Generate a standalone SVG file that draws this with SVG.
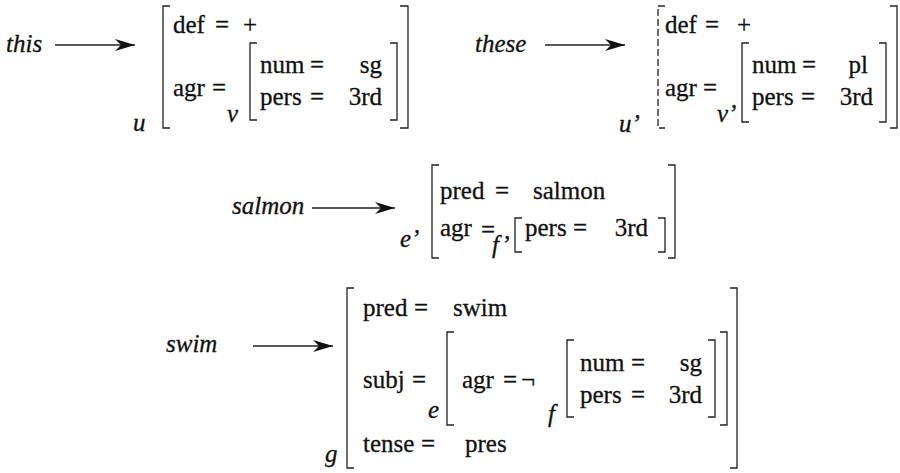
<svg xmlns="http://www.w3.org/2000/svg" width="900" height="473" viewBox="0 0 900 473">
<style>
text{font-family:"Liberation Serif","Times New Roman",serif;font-size:25px;fill:#111;stroke:#111;stroke-width:0.3}
.i{font-style:italic}
.e{text-anchor:end}
.b{fill:none;stroke:#222;stroke-width:1.3}
.d{stroke-dasharray:7 3}
.c{stroke:#222;stroke-width:1.3;fill:none}
</style>
<defs>
<marker id="ah" viewBox="0 0 20 12" refX="20" refY="6" markerWidth="20" markerHeight="12" markerUnits="userSpaceOnUse" orient="auto">
<path d="M0,0 L20,6 L0,12 L6,6 Z" fill="#111"/>
</marker>
</defs>
<rect width="900" height="473" fill="#fff"/>
<g id="labels">
<g id="w-this"><text class="i" x="6" y="52">this</text></g>
<g id="w-these"><text class="i" x="475" y="52">these</text></g>
<g id="w-salmon"><text class="i" x="232" y="214">salmon</text></g>
<g id="w-swim"><text class="i" x="166" y="352">swim</text></g>
</g>
<g id="connectors">
<line class="c" x1="55" y1="45" x2="135" y2="45" marker-end="url(#ah)"/>
<line class="c" x1="545" y1="45" x2="625" y2="45" marker-end="url(#ah)"/>
<line class="c" x1="312" y1="208" x2="395" y2="208" marker-end="url(#ah)"/>
<line class="c" x1="253" y1="346" x2="333" y2="346" marker-end="url(#ah)"/>
</g>
<g id="fs-u">
<text class="i" x="133" y="131">u</text>
<path class="b" d="M170,6 H163 V128 H170"/>
<path class="b" d="M400,6 H408 V128 H400"/>
<text x="173" y="33">def</text><text x="215" y="33">=</text><text x="243" y="33">+</text>
<text x="173" y="96">agr</text><text x="212" y="96">=</text>
<text class="i" x="227" y="122">v</text>
<path class="b" d="M257,43 H250 V120 H257"/>
<path class="b" d="M390,43 H397 V120 H390"/>
<text x="260" y="73">num</text><text x="310" y="73">=</text><text class="e" x="382" y="73">sg</text>
<text x="260" y="105">pers</text><text x="310" y="105">=</text><text class="e" x="382" y="105">3rd</text>
</g>
<g id="fs-u2">
<text class="i" x="619" y="132">u’</text>
<path class="b d" d="M665,6 H658 V128 H665"/>
<path class="b" d="M890,6 H897 V128 H890"/>
<text x="665" y="33">def</text><text x="705" y="33">=</text><text x="737" y="33">+</text>
<text x="665" y="96">agr</text><text x="703" y="96">=</text>
<text class="i" x="717" y="122">v’</text>
<path class="b" d="M749,43 H742 V122 H749"/>
<path class="b" d="M879,43 H886 V122 H879"/>
<text x="752" y="73">num</text><text x="802" y="73">=</text><text class="e" x="868" y="73">pl</text>
<text x="752" y="105">pers</text><text x="801" y="105">=</text><text class="e" x="873" y="105">3rd</text>
</g>
<g id="fs-e2">
<text class="i" x="400" y="247">e’</text>
<path class="b" d="M439,165 H432 V258 H439"/>
<path class="b" d="M668,165 H675 V258 H668"/>
<text x="440" y="199">pred</text><text x="495" y="199">=</text><text x="533" y="199">salmon</text>
<text x="440" y="236">agr</text><text x="481" y="238">=</text>
<text class="i" x="492" y="253">f’</text>
<path class="b" d="M522,218 H515 V252 H522"/>
<path class="b" d="M658,218 H665 V252 H658"/>
<text x="525" y="236">pers</text><text x="573" y="236">=</text><text class="e" x="648" y="236">3rd</text>
</g>
<g id="fs-g">
<text class="i" x="325" y="462">g</text>
<path class="b" d="M354,288 H347 V468 H354"/>
<path class="b" d="M730,288 H737 V468 H730"/>
<text x="363" y="316">pred</text><text x="414" y="316">=</text><text x="453" y="316">swim</text>
<text x="363" y="388">subj</text><text x="412" y="388">=</text>
<text class="i" x="428" y="418">e</text>
<path class="b" d="M454,332 H447 V425 H454"/>
<path class="b" d="M720,332 H727 V425 H720"/>
<text x="462" y="388">agr</text><text x="503" y="388">=</text><text x="521" y="388">¬</text>
<text class="i" x="548" y="422">f</text>
<path class="b" d="M574,340 H567 V417 H574"/>
<path class="b" d="M708,340 H715 V417 H708"/>
<text x="580" y="371">num</text><text x="631" y="371">=</text><text class="e" x="702" y="371">sg</text>
<text x="580" y="403">pers</text><text x="631" y="403">=</text><text class="e" x="702" y="403">3rd</text>
<text x="363" y="452">tense</text><text x="421" y="452">=</text><text x="465" y="452">pres</text>
</g>
</svg>
